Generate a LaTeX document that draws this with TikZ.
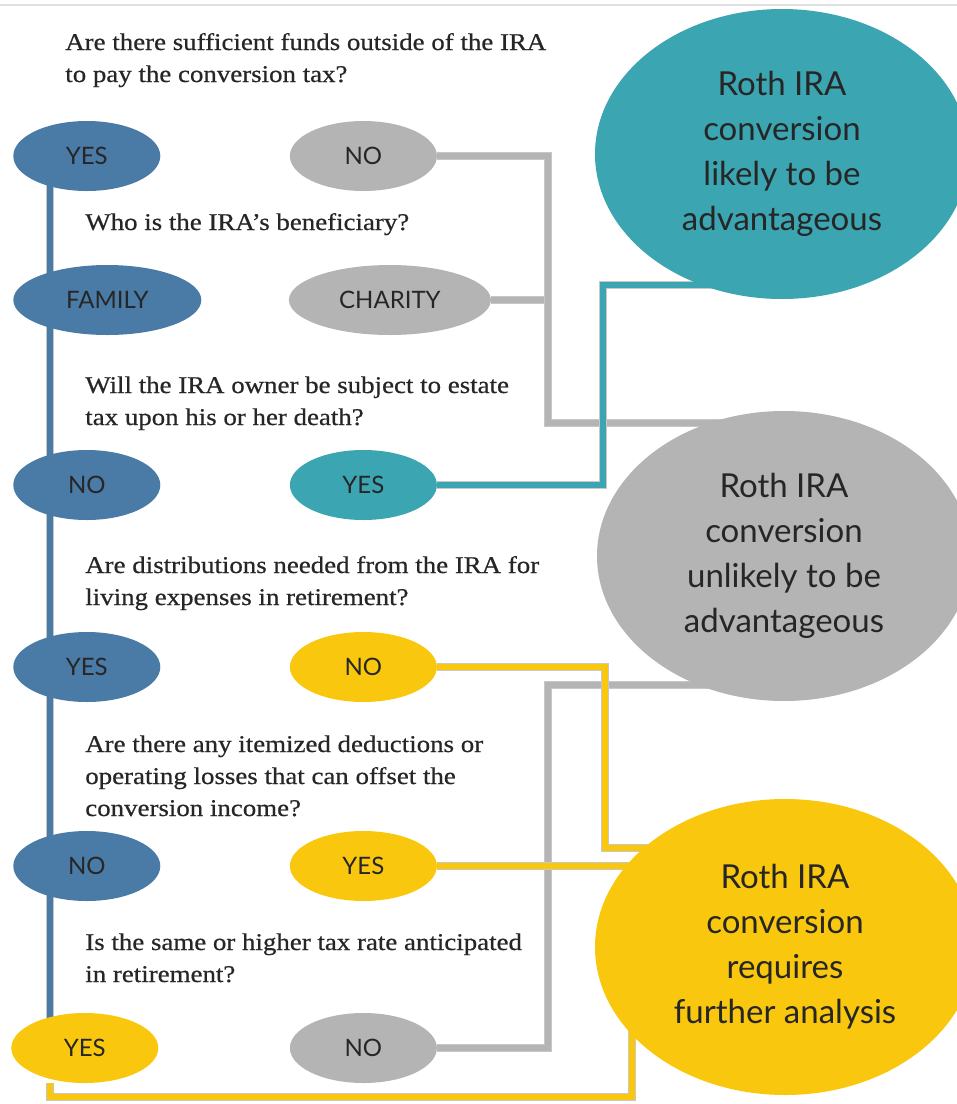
\documentclass[tikz,border=0pt]{standalone}
\usepackage{fontspec}
\setmainfont{Liberation Serif}[FakeStretch=1.12, FakeBold=0.6]
\newfontfamily\answerfont{Lato}
\usepackage{tikz}
\usetikzlibrary{positioning, shapes.geometric, backgrounds}
\definecolor{famblue}{HTML}{4A7BA6}
\definecolor{nogray}{HTML}{B4B4B4}
\definecolor{goodteal}{HTML}{3BA5B2}
\definecolor{maybegold}{HTML}{F9C80E}
\tikzset{
    answer/.style={
           ellipse,
           draw=none,
           minimum width=147pt,
           minimum height=70pt,
           inner sep=0pt,
           text=black!85,
           font=\answerfont\fontsize{24}{24}\selectfont,
           text centered,
           },
    outcome/.style={
           ellipse,
           minimum width=374pt,
           minimum height=290pt,
           inner sep=0pt,
           align=center,
           text=black!85,
           font=\answerfont\fontsize{33}{45}\selectfont,
           },
    question/.style={
           anchor=base west,
           align=left,
           inner sep=0pt,
           text=black!85,
           font=\fontsize{24}{32}\selectfont,
           },
    link/.style={draw=black!22, line width=0.8pt, double=#1, double distance=6pt},
}

\begin{document}
\begin{tikzpicture}[x=1pt, y=-1pt, semithick]
  \useasboundingbox (0,0) rectangle (957,1104);
  \draw[black!12, line width=1.5pt] (0,5) -- (957,5);

  % questions (placed by the baseline of their last line)
  \node[question] (q1) at (65,82)  {Are there sufficient funds outside of the IRA\\to pay the conversion tax?};
  \node[question] (q2) at (85,230) {Who is the IRA's beneficiary?};
  \node[question] (q3) at (85,425) {Will the IRA owner be subject to estate\\tax upon his or her death?};
  \node[question] (q4) at (85,605) {Are distributions needed from the IRA for\\living expenses in retirement?};
  \node[question] (q5) at (85,816) {Are there any itemized deductions or\\operating losses that can offset the\\conversion income?};
  \node[question] (q6) at (85,982) {Is the same or higher tax rate anticipated\\in retirement?};

  % answers
  \node[answer, fill=famblue, anchor=west]                   (yes1)    at (13,156)  {YES};
  \node[answer, fill=nogray, right=129pt of yes1]            (no1)                  {NO};
  \node[answer, fill=famblue, anchor=west, minimum width=188pt] (family) at (13,300)  {FAMILY};
  \node[answer, fill=nogray, minimum width=202pt, right=87pt of family] (charity)   {CHARITY};
  \node[answer, fill=famblue, anchor=west]                   (no3)     at (13,485)  {NO};
  \node[answer, fill=goodteal, right=129pt of no3]           (yes3)                 {YES};
  \node[answer, fill=famblue, anchor=west]                   (yes4)    at (13,667)  {YES};
  \node[answer, fill=maybegold, right=129pt of yes4]         (no4)                  {NO};
  \node[answer, fill=famblue, anchor=west]                   (no5)     at (13,866)  {NO};
  \node[answer, fill=maybegold, right=129pt of no5]          (yes5)                 {YES};
  \node[answer, fill=maybegold, anchor=west]                 (yes6)    at (11,1048) {YES};
  \node[answer, fill=nogray, right=131pt of yes6]            (no6)                  {NO};

  % outcomes
  \node[outcome, fill=goodteal]  (likely)   at (782,154) {Roth IRA\\conversion\\likely to be\\advantageous};
  \node[outcome, fill=nogray]    (unlikely) at (784,556) {Roth IRA\\conversion\\unlikely to be\\advantageous};
  \node[outcome, fill=maybegold, minimum width=380pt, minimum height=296pt] (further) at (785,947) {Roth IRA\\conversion\\requires\\further analysis};

  \coordinate (spine)    at (50,0);
  \coordinate (graybus)  at (548,423);
  \coordinate (graybus2) at (548,685);
  \coordinate (tealbus)  at (603,285);
  \coordinate (goldbus)  at (605,848);
  \coordinate (goldbus2) at (632,1097);

  \begin{scope}[on background layer]
    \draw[link=nogray] (charity.east) -- (charity.east -| graybus);
    \draw[link=nogray] (no1.east) -| (graybus) -- (graybus -| unlikely.center);
    \draw[link=nogray] (no6.east) -| (graybus2) -- (graybus2 -| unlikely.center);
    \draw[link=famblue] (spine |- yes1) -- (spine |- yes6);
    \draw[link=goodteal] (yes3.east) -| (tealbus) -- (tealbus -| likely.center);
    \draw[link=maybegold] (no4.east) -| (goldbus) -- (goldbus -| further.center);
    \draw[link=maybegold] (yes5.east) -- (yes5.east -| further.center);
    \draw[link=maybegold] (spine |- yes6.south) |- (goldbus2) -- (goldbus2 |- further.center);
  \end{scope}
\end{tikzpicture}
\end{document}
